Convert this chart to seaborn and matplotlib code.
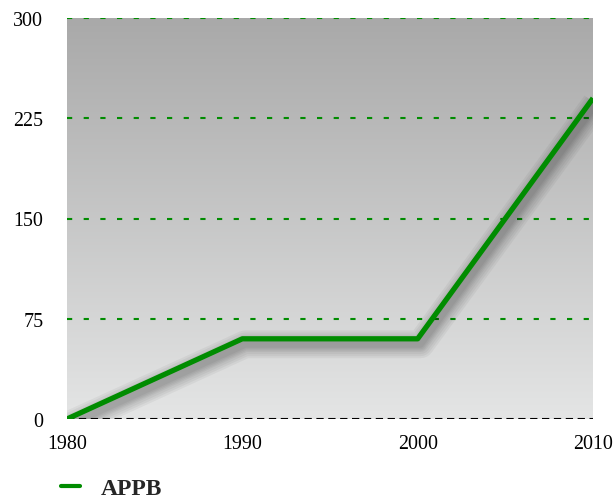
import numpy as np
import pandas as pd
import matplotlib
matplotlib.use("Agg")
import matplotlib.pyplot as plt
import matplotlib.patheffects as pe
from matplotlib.lines import Line2D
import seaborn as sns

years = [1980, 1990, 2000, 2010]
appb = [0, 60, 60, 240]
series_name = "APPB"
y_ticks = [0, 75, 150, 225, 300]

df = pd.DataFrame({"year": years, "value": appb, "series": series_name})

sns.set_style("white")
plt.rcParams["font.family"] = ["Liberation Serif", "DejaVu Serif"]

fig = plt.figure(figsize=(6.16, 5.02), dpi=100)
ax = fig.add_axes([67 / 616, 82 / 502, 526 / 616, 401 / 502])

# vertical grey gradient background
grad = np.linspace(0, 1, 256).reshape(-1, 1)
top = np.array([169, 169, 169]) / 255
bot = np.array([228, 229, 229]) / 255
img = top + (bot - top) * grad[:, :, None] * np.ones((1, 1, 3))
ax.imshow(img, extent=[1980, 2010, 0, 300], aspect="auto", origin="upper", zorder=0)

# soft drop shadow under the series line
shadow = [pe.SimpleLineShadow(offset=(2, -4), shadow_color="k", alpha=0.045, linewidth=w)
          for w in (20, 17, 14, 11, 9, 7, 5)]
sns.lineplot(data=df, x="year", y="value", color="#008c00", linewidth=3.8,
             ax=ax, legend=False, zorder=5, solid_capstyle="butt",
             path_effects=shadow + [pe.Normal()])

for v in y_ticks[1:]:
    ax.axhline(v, color="#008c00", linewidth=1.5, dashes=(2.5, 5.5), zorder=2)
ax.axhline(0, color="black", linewidth=1.5, dashes=(3.5, 2.2), zorder=3)

ax.set_xlim(1980, 2010)
ax.set_ylim(0, 300)
ax.set_xticks(years)
ax.set_yticks(y_ticks)
ax.tick_params(axis="both", length=0, labelsize=14.4, colors="black")
ax.tick_params(axis="y", pad=17)
ax.tick_params(axis="x", pad=11)
ax.set_xlabel("")
ax.set_ylabel("")
for s in ax.spines.values():
    s.set_visible(False)

handle = Line2D([], [], color="#008c00", linewidth=3.0)
fig.legend([handle], [series_name], loc="lower left", bbox_to_anchor=(0.064, -0.038),
           frameon=False, handlelength=0.8, handletextpad=0.9,
           prop={"weight": "bold", "size": 17, "family": "Liberation Serif"})

fig.savefig("out.png", dpi=100)
